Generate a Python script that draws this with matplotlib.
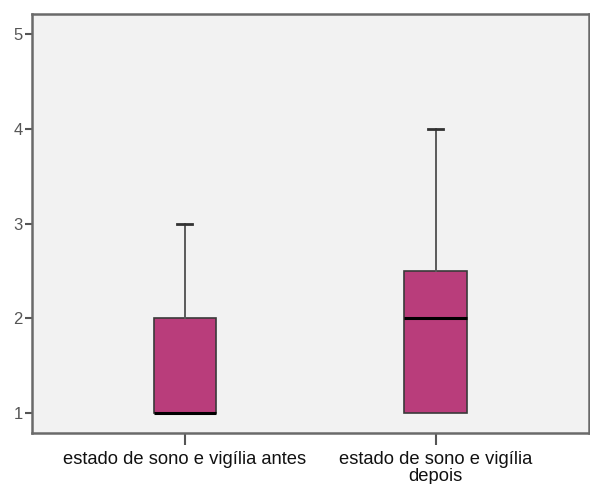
import matplotlib.pyplot as plt

plt.rcParams['font.family'] = ['Liberation Sans', 'DejaVu Sans']

# five-number summaries of each group
labels = ['estado de sono e vigília antes', 'estado de sono e vigília\ndepois']
whislo = [1, 1]
q1 = [1, 1]
med = [1, 2]
q3 = [2, 2.5]
whishi = [3, 4]

stats = []
for i in range(len(labels)):
    stats.append({'label': labels[i], 'whislo': whislo[i], 'q1': q1[i],
                  'med': med[i], 'q3': q3[i], 'whishi': whishi[i], 'fliers': []})

fig = plt.figure(figsize=(5.9, 4.84), dpi=100)
ax = fig.add_axes([0.054, 0.105, 0.944, 0.866])
ax.set_facecolor('#f2f2f2')

parts = ax.bxp(stats, positions=[1, 2], widths=0.25, patch_artist=True, showfliers=False,
               boxprops=dict(facecolor='#b93d7b', edgecolor='#3a3a3a', linewidth=1.2),
               medianprops=dict(color='black', linewidth=2.2),
               whiskerprops=dict(color='#5a5a5a', linewidth=1.4),
               capprops=dict(color='#333333', linewidth=2.0),
               capwidths=0.06)

# lower whiskers have zero length here, so hide their caps
for i in range(len(labels)):
    if whislo[i] == q1[i]:
        parts['caps'][2 * i].set_visible(False)

ax.set_xlim(0.39, 2.61)
ax.set_ylim(0.79, 5.21)
ax.set_yticks([1, 2, 3, 4, 5])

for s in ax.spines.values():
    s.set_color('#6a6a6a')
    s.set_linewidth(1.8)

ax.tick_params(axis='y', length=5, width=1.5, color='#555555',
               labelcolor='#555555', labelsize=12, pad=1.5)
ax.tick_params(axis='x', length=8.5, width=1.5, color='#555555',
               labelcolor='#111111', labelsize=13.2, pad=4.5)
for t in ax.get_xticklabels():
    t.set_linespacing(0.95)

fig.savefig('out.png', dpi=100)
